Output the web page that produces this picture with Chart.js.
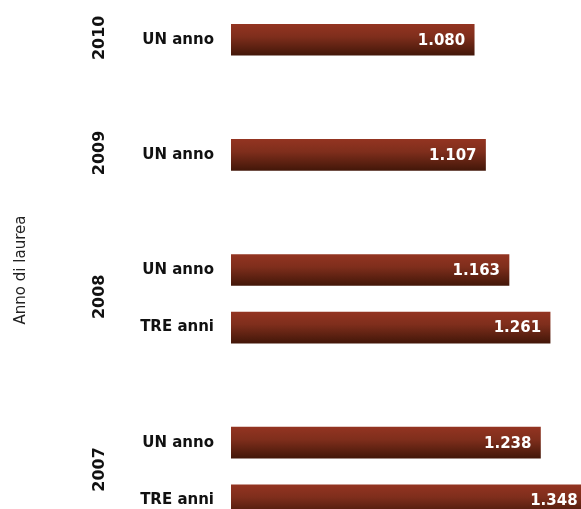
<!DOCTYPE html>
<html>
<head>
<meta charset="utf-8">
<script src="https://cdn.jsdelivr.net/npm/chart.js@4"></script>
<style>
  html, body { margin: 0; padding: 0; background: #fff; overflow: hidden; }
  #wrap { position: absolute; left: 0; top: -15px; width: 600px; height: 570px; }
</style>
</head>
<body>
<div id="wrap"><canvas id="c" width="600" height="570"></canvas></div>
<script>
// Data (top to bottom); empty labels/nulls are spacer slots between year groups
const subLabels = ["UN anno", "", "UN anno", "", "UN anno", "TRE anni", "", "UN anno", "TRE anni"];
const values    = [1080, null, 1107, null, 1163, 1261, null, 1238, 1348];
const years     = ["2010", "2009", "2008", "2007"];
const yearSlots = [[0, 0], [2, 2], [4, 5], [7, 8]];
const axisTitle = "Anno di laurea";

function fmt(v) {
  return v.toString().replace(/\B(?=(\d{3})+(?!\d))/g, ".");
}

const barH = 31;

const extras = {
  id: 'extras',
  afterDatasetsDraw(chart) {
    const c = chart.ctx;
    const x = chart.scales.x, y = chart.scales.y;
    c.save();
    // value labels inside bar ends
    c.font = "bold 15px 'DejaVu Sans'";
    c.fillStyle = "#ffffff";
    c.textAlign = "right";
    c.textBaseline = "middle";
    values.forEach((v, i) => {
      if (v == null) return;
      c.fillText(fmt(v), x.getPixelForValue(v) - 9, y.getPixelForValue(i) + 1);
    });
    // rotated year labels
    c.font = "bold 16px 'DejaVu Sans'";
    c.fillStyle = "#111111";
    c.textAlign = "center";
    years.forEach((yr, k) => {
      const [a, b] = yearSlots[k];
      let cy = (y.getPixelForValue(a) + y.getPixelForValue(b)) / 2 - 2;
      c.save();
      c.translate(100, cy);
      c.rotate(-Math.PI / 2);
      c.fillText(yr, 0, 0);
      c.restore();
    });
    c.restore();
  }
};

new Chart(document.getElementById('c'), {
  type: 'bar',
  data: {
    labels: subLabels,
    datasets: [{
      data: values,
      barThickness: barH,
      borderWidth: 0,
      backgroundColor(ctx) {
        if (ctx.type !== 'data') return '#7a2c1b';
        const chart = ctx.chart;
        const ys = chart.scales.y;
        if (!ys) return '#7a2c1b';
        const cy = ys.getPixelForValue(ctx.dataIndex);
        if (!isFinite(cy)) return '#7a2c1b';
        const g = chart.ctx.createLinearGradient(0, cy - barH / 2, 0, cy + barH / 2);
        g.addColorStop(0, '#933421');
        g.addColorStop(0.4, '#7f2e1c');
        g.addColorStop(1, '#431709');
        return g;
      }
    }]
  },
  options: {
    indexAxis: 'y',
    responsive: false,
    animation: false,
    events: [],
    layout: { padding: { top: 11, bottom: 0, left: 0, right: 0 } },
    plugins: { legend: { display: false }, tooltip: { enabled: false } },
    scales: {
      x: {
        display: false,
        min: 500,
        max: 1380
      },
      y: {
        grid: { display: false, drawTicks: false },
        border: { display: false },
        afterFit(scale) { scale.width = 231; },
        ticks: {
          padding: 17,
          autoSkip: false,
          color: '#111111',
          font: { family: 'DejaVu Sans', size: 15, weight: 'bold' }
        },
        title: {
          display: true,
          text: axisTitle,
          color: '#222222',
          font: { family: 'DejaVu Sans', size: 15, weight: 'normal' },
          padding: { top: 12, bottom: 0 }
        }
      }
    }
  },
  plugins: [extras]
});
</script>
</body>
</html>
